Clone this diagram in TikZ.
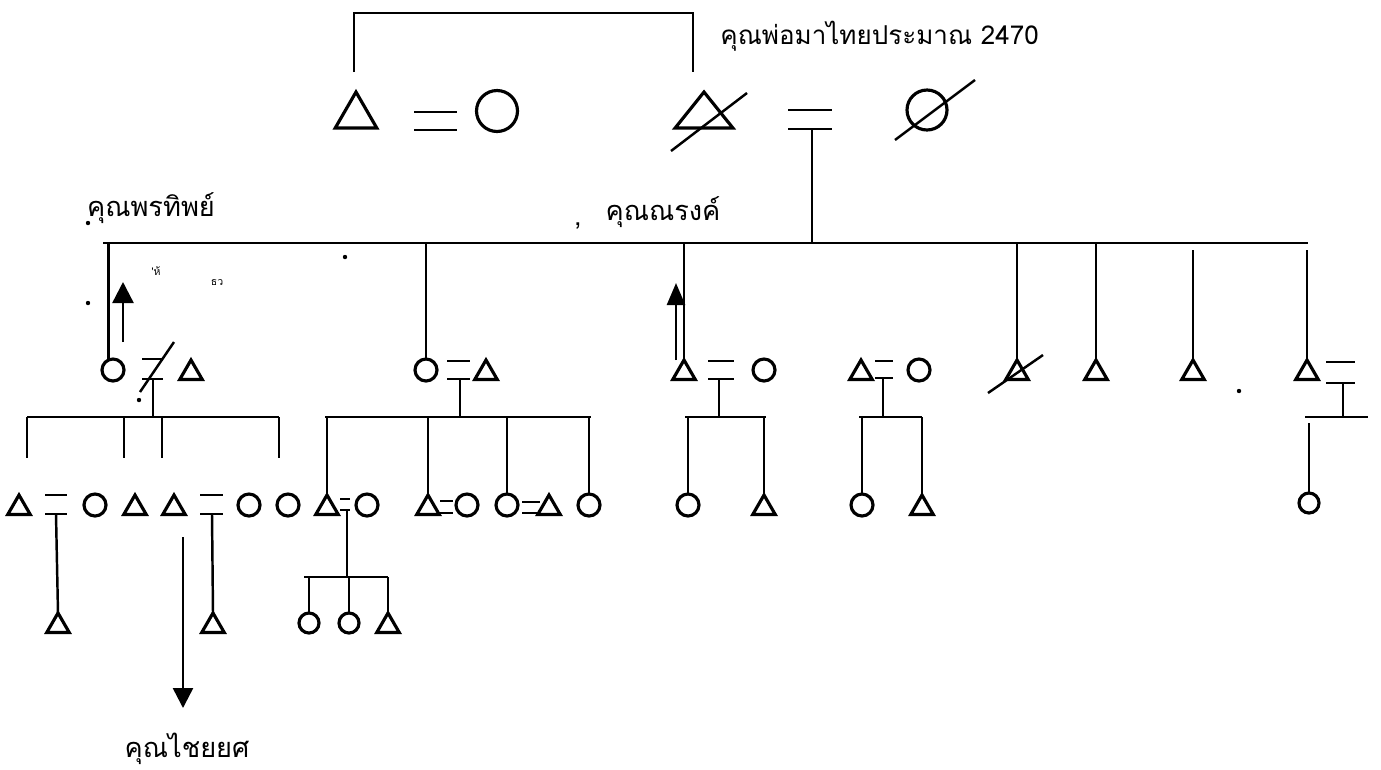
\documentclass[tikz,border=0pt]{standalone}
\usepackage{fontspec}
\newfontfamily\thai[Script=Thai]{Loma}
\usetikzlibrary{shapes.geometric,arrows.meta}
\begin{document}
\begin{tikzpicture}[x=0.02cm,y=-0.02cm,
  ln/.style={line width=1.4pt},
  sym/.style={draw, line width=1.8pt, inner sep=0pt, outer sep=0pt},
  fem/.style={sym, circle, minimum size=0.44cm},
  femS/.style={sym, circle, minimum size=0.40cm},
  mal/.style={sym, regular polygon, regular polygon sides=3, minimum size=0.52cm},
  bigmal/.style={sym, regular polygon, regular polygon sides=3, minimum size=0.96cm},
  bigfem/.style={sym, circle, minimum size=0.82cm},
  lbl/.style={font=\thai\fontsize{15.5}{18}\selectfont, inner sep=0pt},
  toplbl/.style={font=\thai\fontsize{14.8}{18}\selectfont, inner sep=0pt},
  tiny/.style={font=\thai\fontsize{6}{7}\selectfont, inner sep=0pt},
  arr/.style={ln, -{Triangle[width=0.42cm,length=0.42cm]}},
  dot/.style={fill, circle, inner sep=0pt, minimum size=2.5pt}
]
\fill[white] (0,0) rectangle (1381,769);
\useasboundingbox (0,0) rectangle (1381,769);

% ---------- generation 1
\node[bigmal] (g1a) at (356,116) {};
\node[bigfem] (g1b) at (497,111) {};
\node[bigmal, xscale=1.39] (g1c) at (704,116) {};
\node[bigfem, minimum size=0.80cm] (g1d) at (927,110) {};
\coordinate (brA) at (354,72);
\coordinate (brB) at (693,72);
\draw[ln] (brA) -- ++(0,-59) -| (brB);
\draw[ln] (414,112) -- (457,112) (414,130) -- (457,130);
\draw[ln] (671,151) -- (747,93);
\draw[ln] (788,110) -- (832,110) (788,129) -- (832,129);
\draw[ln] (895,140) -- (975,80);
\coordinate (m1) at (812,129);
\node[toplbl, anchor=west] (ttop) at (720,36) {คุณพ่อมาไทยประมาณ 2470};

% ---------- sibling line gen 2
\coordinate (sibL) at (103,243);
\coordinate (sibR) at (1308,243);
\coordinate (sibG) at (0,250);
\draw[ln] (sibL) -- (sibR);
\draw[ln] (m1) -- (m1 |- sibL);

\node[lbl] (lpt) at (151,208) {คุณพรทิพย์};
\node[lbl] (lnr) at (663,212) {คุณณรงค์};
\node[lbl] (comma) at (578,226) {,};
\node[tiny] (tk1) at (156,271) {'ห้};
\node[tiny] (tk2) at (217,283) {ธว};

% ---------- row 2
\node[fem] (c2a) at (113,370) {};
\draw[ln] (c2a.115 |- sibL) -- (c2a.115);
\coordinate (a1s) at (123,342);
\coordinate (a1e) at (123,282);
\draw[arr] (a1s) -- (a1e);
\draw[ln] (142,359) -- (163,359) (142,379) -- (163,379);
\draw[ln] (140,392) -- (174,342);
\node[mal] (t2a) at (191,373) {};
\coordinate (m2a) at (153,379);

\node[fem] (c2b) at (426,370) {};
\draw[ln] (c2b.north |- sibL) -- (c2b.north);
\draw[ln] (447,361) -- (470,361) (447,379) -- (470,379);
\node[mal] (t2b) at (486,373) {};
\coordinate (m2b) at (460,379);

\node[mal] (t2c) at (684,373) {};
\draw[ln] (t2c.north |- sibL) -- (t2c.north);
\coordinate (a2s) at (676,360);
\coordinate (a2e) at (676,283);
\draw[ln, -{Triangle[width=0.36cm,length=0.44cm]}] (a2s) -- (a2e);
\draw[ln] (708,361) -- (734,361) (708,379) -- (734,379);
\node[fem] (c2c) at (764,370) {};
\coordinate (m2c) at (719,379);

\node[mal] (t2d) at (861,373) {};
\draw[ln] (875,361) -- (893,361) (875,378) -- (893,378);
\node[fem] (c2d) at (919,370) {};
\coordinate (m2d) at (883,378);

\node[mal] (t2e) at (1017,373) {};
\draw[ln] (t2e.north |- sibL) -- (t2e.north);
\draw[ln] (988,393) -- (1043,355);
\node[mal] (t2f) at (1096,373) {};
\draw[ln] (t2f.north |- sibL) -- (t2f.north);
\node[mal] (t2g) at (1193,373) {};
\draw[ln] (t2g.north |- sibG) -- (t2g.north);
\node[mal] (t2h) at (1307,373) {};
\draw[ln] (t2h.north |- sibG) -- (t2h.north);
\draw[ln] (1326,362) -- (1355,362) (1326,383) -- (1355,383);
\coordinate (m2h) at (1343,383);

% ---------- row 2 -> row 3 connectors
\coordinate (L2a) at (27,417);
\coordinate (R2a) at (279,417);
\draw[ln] (m2a) -- (m2a |- L2a);
\draw[ln] (L2a) -- (R2a);
\foreach \xx in {27,124,162,279} \draw[ln] (\xx,417) -- (\xx,458);

\coordinate (L2b) at (325,417);
\coordinate (R2b) at (591,417);
\draw[ln] (m2b) -- (m2b |- L2b);
\draw[ln] (L2b) -- (R2b);

\coordinate (L2c) at (685,417);
\coordinate (R2c) at (766,417);
\draw[ln] (m2c) -- (m2c |- L2c);
\draw[ln] (L2c) -- (R2c);

\coordinate (L2d) at (859,417);
\coordinate (R2d) at (922,417);
\draw[ln] (m2d) -- (m2d |- L2d);
\draw[ln] (L2d) -- (R2d);

\coordinate (L2h) at (1305,417);
\coordinate (R2h) at (1368,417);
\coordinate (gapH) at (1309,423);
\draw[ln] (m2h) -- (m2h |- L2h);
\draw[ln] (L2h) -- (R2h);

% ---------- row 3 left family
\node[mal] (t3a) at (19,508) {};
\draw[ln] (45,495) -- (67,495) (45,514) -- (67,514);
\coordinate (m3a) at (56,514);
\node[fem] (c3a) at (95,505) {};
\node[mal] (t3b) at (135,508) {};
\node[mal] (t3c) at (174,508) {};
\draw[ln] (200,495) -- (223,495) (200,514) -- (223,514);
\coordinate (m3c) at (212,514);
\node[fem] (c3b) at (249,505) {};
\node[fem] (c3c) at (288,505) {};

\node[mal] (t4a) at (58,626) {};
\draw[ln] (m3a) -- (t4a.north);
\node[mal] (t4b) at (213,626) {};
\draw[ln] (m3c) -- (t4b.north);

\coordinate (a3s) at (183,537);
\coordinate (a3e) at (183,708);
\draw[ln, -{Triangle[width=0.40cm,length=0.40cm]}] (a3s) -- (a3e);
\node[lbl] (lcy) at (187,749) {คุณไชยยศ};

% ---------- row 3 middle family
\node[mal] (t3d) at (327,508) {};
\draw[ln] (t3d.north |- L2b) -- (t3d.north);
\draw[ln] (340,499) -- (350,499) (340,510) -- (350,510);
\coordinate (m3d) at (347,510);
\node[fem] (c3d) at (367,505) {};

\node[mal] (t3e) at (428,508) {};
\draw[ln] (t3e.north |- L2b) -- (t3e.north);
\draw[ln] (440,501) -- (453,501) (440,513) -- (453,513);
\node[fem] (c3e) at (467,505) {};

\node[fem] (c3f) at (507,505) {};
\draw[ln] (c3f.north |- L2b) -- (c3f.north);
\draw[ln] (522,502) -- (540,502) (522,513) -- (540,513);
\node[mal] (t3f) at (549,508) {};

\node[fem] (c3g) at (589,505) {};
\draw[ln] (c3g.north |- L2b) -- (c3g.north);

\coordinate (L3d) at (304,577);
\coordinate (R3d) at (388,577);
\draw[ln] (m3d) -- (m3d |- L3d);
\draw[ln] (L3d) -- (R3d);
\node[femS] (c4a) at (309,623) {};
\node[femS] (c4b) at (349,623) {};
\node[mal] (t4c) at (388,626) {};
\draw[ln] (c4a.north |- L3d) -- (c4a.north);
\draw[ln] (c4b.north |- L3d) -- (c4b.north);
\draw[ln] (t4c.north |- L3d) -- (t4c.north);

% ---------- row 3 Narong family
\node[fem] (c3n) at (688,505) {};
\node[mal] (t3n) at (764,508) {};
\draw[ln] (c3n.north |- L2c) -- (c3n.north);
\draw[ln] (t3n.north |- L2c) -- (t3n.north);

\node[fem] (c3m) at (862,505) {};
\node[mal] (t3m) at (922,508) {};
\draw[ln] (c3m.north |- L2d) -- (c3m.north);
\draw[ln] (t3m.north |- L2d) -- (t3m.north);

\node[femS] (c3r) at (1309,503) {};
\draw[ln] (gapH) -- (c3r.north);

% ---------- specks
\node[dot] (d1) at (88,223) {};
\node[dot] (d2) at (88,303) {};
\node[dot] (d3) at (139,400) {};
\node[dot] (d4) at (345,257) {};
\node[dot] (d5) at (1239,391) {};
\end{tikzpicture}
\end{document}
